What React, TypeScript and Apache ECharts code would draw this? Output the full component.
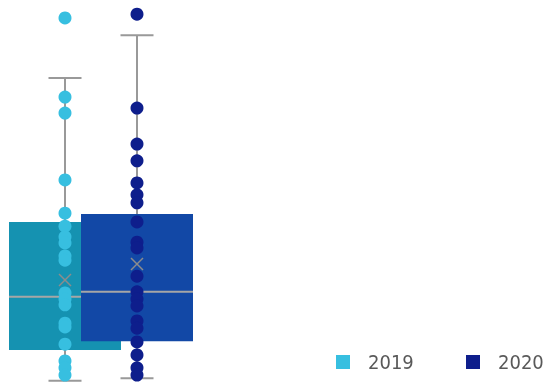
import React, { useEffect, useRef } from "react";
import * as echarts from "echarts";

const categories = ["2019", "2020"];

const points2019 = [95.3, 74.6, 70.4, 52.9, 44.2, 40.8, 38.0, 36.4, 33.0, 31.9, 23.3, 21.7, 20.2, 15.4, 14.4, 9.9, 5.5, 3.7, 1.8];
const points2020 = [96.3, 71.7, 62.3, 57.9, 52.1, 49.0, 46.9, 41.9, 36.6, 35.1, 27.7, 23.6, 21.7, 19.9, 16.0, 14.1, 10.5, 7.1, 3.7, 1.8];

// [low whisker, Q1, median, Q3, high whisker]
const box2019 = [0.3, 8.4, 22.3, 41.9, 79.6];
const box2020 = [1.0, 10.7, 23.6, 44.0, 90.8];
const means = [26.7, 30.9];

const pointColors = ["#37BFE0", "#0E1E8C"];
const boxColors = ["#1592B1", "#1248A6"];

const BOX_WIDTH = 112;
const CAP_WIDTH = 33;
const MARK = 12;
const GRAY = "#999999";

const legendBase = {
  top: 352,
  orient: "horizontal",
  padding: 0,
  icon: "rect",
  itemWidth: 14,
  itemHeight: 14,
  textStyle: {
    color: "#595959",
    fontSize: 20,
    fontFamily: "'DejaVu Sans Condensed', 'Liberation Sans Narrow', sans-serif",
    padding: [0, 0, 0, 13],
  },
};

export default function App() {
  const ref = useRef<HTMLDivElement>(null);
  useEffect(() => {
    if (!ref.current) return;
    const chart = echarts.init(ref.current, undefined, { renderer: "svg" });
    chart.setOption({
      animation: false,
      grid: { left: 29, width: 144, top: 0, bottom: 0 },
      xAxis: { type: "category", data: categories, show: false },
      yAxis: { type: "value", min: 0, max: 100, show: false },
      legend: [
        { ...legendBase, data: [categories[0]], left: 336 },
        { ...legendBase, data: [categories[1]], left: 466 },
      ],
      series: [
        {
          type: "custom",
          name: "box",
          data: [
            [0, ...box2019, means[0]],
            [1, ...box2020, means[1]],
          ],
          encode: { x: 0, y: [1, 2, 3, 4, 5, 6] },
          z: 1,
          renderItem: (params: any, api: any) => {
            const idx = api.value(0);
            const low = api.coord([idx, api.value(1)]);
            const q1 = api.coord([idx, api.value(2)]);
            const med = api.coord([idx, api.value(3)]);
            const q3 = api.coord([idx, api.value(4)]);
            const high = api.coord([idx, api.value(5)]);
            const mean = api.coord([idx, api.value(6)]);
            const cx = low[0];
            const hw = BOX_WIDTH / 2;
            const cw = CAP_WIDTH / 2;
            const m = MARK / 2;
            const ls = { stroke: GRAY, lineWidth: 2 };
            return {
              type: "group",
              children: [
                { type: "line", shape: { x1: cx, y1: q3[1], x2: cx, y2: high[1] }, style: ls },
                { type: "line", shape: { x1: cx - cw, y1: high[1], x2: cx + cw, y2: high[1] }, style: ls },
                { type: "line", shape: { x1: cx, y1: q1[1], x2: cx, y2: low[1] }, style: ls },
                { type: "line", shape: { x1: cx - cw, y1: low[1], x2: cx + cw, y2: low[1] }, style: ls },
                {
                  type: "rect",
                  shape: { x: cx - hw, y: q3[1], width: BOX_WIDTH, height: q1[1] - q3[1] },
                  style: { fill: boxColors[idx] },
                },
                { type: "line", shape: { x1: cx - hw, y1: med[1], x2: cx + hw, y2: med[1] }, style: { stroke: "#A6A6A6", lineWidth: 2 } },
                { type: "line", shape: { x1: cx - m, y1: mean[1] - m, x2: cx + m, y2: mean[1] + m }, style: { stroke: "#8C8C8C", lineWidth: 1.5 } },
                { type: "line", shape: { x1: cx - m, y1: mean[1] + m, x2: cx + m, y2: mean[1] - m }, style: { stroke: "#8C8C8C", lineWidth: 1.5 } },
              ],
            };
          },
        },
        {
          type: "scatter",
          name: "2019",
          data: points2019.map((v) => [0, v]),
          symbolSize: 13,
          itemStyle: { color: pointColors[0], opacity: 1 },
          z: 2,
        },
        {
          type: "scatter",
          name: "2020",
          data: points2020.map((v) => [1, v]),
          symbolSize: 13,
          itemStyle: { color: pointColors[1], opacity: 1 },
          z: 3,
        },
      ],
    });
    return () => chart.dispose();
  }, []);
  return (
    <div
      ref={ref}
      style={{ position: "fixed", left: 0, top: 0, width: 544, height: 382 }}
    />
  );
}
